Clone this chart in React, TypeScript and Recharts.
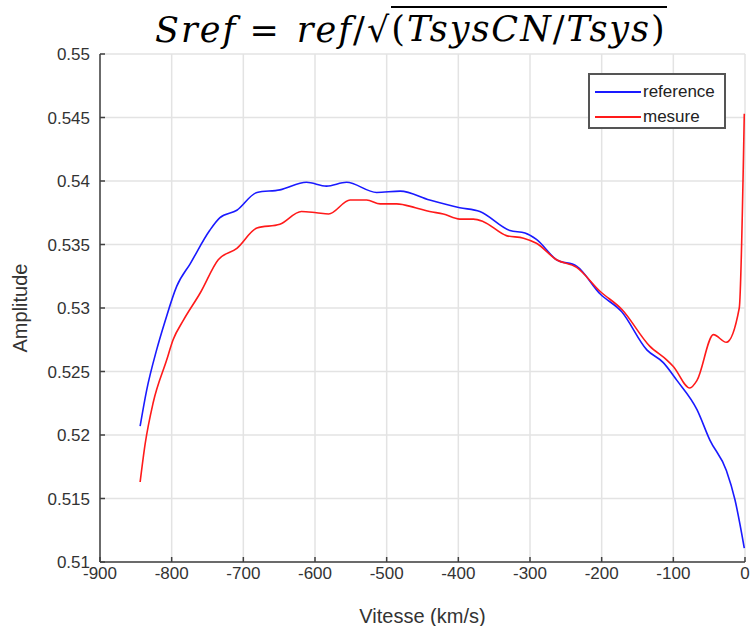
import {
  CartesianGrid,
  Legend,
  Line,
  LineChart,
  XAxis,
  YAxis,
} from "recharts";

// vitesse (km/s) and amplitude
const refVitesse = [
  -844, -835, -821, -809, -793, -774, -747, -733, -709, -681, -649, -612, -584,
  -556, -514, -481, -440, -398, -370, -328, -307, -291, -263, -235, -202, -172,
  -137, -114, -95, -67, -49, -26, -14, -1,
];
const refAmplitude = [
  0.5207, 0.5235, 0.5267, 0.529, 0.5317, 0.5335, 0.5361, 0.5371, 0.5377, 0.5391,
  0.5393, 0.5399, 0.5396, 0.5399, 0.5391, 0.5392, 0.5385, 0.5379, 0.5376, 0.5361,
  0.5359, 0.5354, 0.5338, 0.5333, 0.5311, 0.5297, 0.5267, 0.5257, 0.5243, 0.522,
  0.5196, 0.5172, 0.5149, 0.5111,
];

const mesVitesse = [
  -844, -837, -826, -807, -798, -784, -760, -735, -709, -681, -649, -619, -598,
  -581, -551, -528, -509, -486, -460, -440, -421, -398, -379, -365, -333, -309,
  -291, -263, -235, -202, -172, -133, -109, -100, -77, -67, -44, -26, -8, -1,
];
const mesAmplitude = [
  0.5163, 0.5193, 0.5225, 0.5259, 0.5275, 0.529, 0.5312, 0.5338, 0.5347, 0.5363,
  0.5366, 0.5376, 0.5375, 0.5374, 0.5385, 0.5385, 0.5382, 0.5382, 0.5379, 0.5376,
  0.5374, 0.537, 0.537, 0.5368, 0.5357, 0.5355, 0.5351, 0.5338, 0.5332, 0.5313,
  0.5299, 0.527, 0.5259, 0.5254, 0.5237, 0.5243, 0.5279, 0.5273, 0.53, 0.5453,
];

const xTicks = [-900, -800, -700, -600, -500, -400, -300, -200, -100, 0];
const yTicks = [0.51, 0.515, 0.52, 0.525, 0.53, 0.535, 0.54, 0.545, 0.55];

const seriesNames = ["reference", "mesure"];
const seriesColors = ["#1a1aff", "#ff1a1a"];

const refData = refVitesse.map((x, i) => ({ x, y: refAmplitude[i] }));
const mesData = mesVitesse.map((x, i) => ({ x, y: mesAmplitude[i] }));

const font = "'Liberation Sans', Arial, sans-serif";

function LegendBox() {
  return (
    <div
      style={{
        width: 134,
        height: 48,
        paddingTop: 4,
        border: "2px solid #555",
        background: "#fff",
        fontFamily: font,
        fontSize: 17,
        color: "#222",
        boxSizing: "content-box",
      }}
    >
      {seriesNames.map((name, i) => (
        <div
          key={name}
          style={{ display: "flex", alignItems: "center", height: 25 }}
        >
          <div
            style={{
              width: 46,
              height: 2,
              background: seriesColors[i],
              marginLeft: 5,
              marginRight: 2,
            }}
          />
          <span>{name}</span>
        </div>
      ))}
    </div>
  );
}

export default function App() {
  return (
    <div
      style={{
        position: "absolute",
        left: 0,
        top: 0,
        width: 750,
        height: 626,
        background: "#fff",
      }}
    >
      <div
        style={{
          position: "absolute",
          left: 155,
          top: 6,
          fontFamily: "'DejaVu Serif', serif",
          fontStyle: "italic",
          fontSize: 35,
          letterSpacing: 2,
          color: "#000",
          whiteSpace: "nowrap",
          display: "flex",
          alignItems: "flex-end",
          zIndex: 2,
        }}
      >
        <span>Sref</span>
        <span style={{ fontStyle: "normal", margin: "0 16px 0 12px" }}>=</span>
        <span>ref</span>
        <span style={{ fontStyle: "normal" }}>/</span>
        <span style={{ fontStyle: "normal" }}>√</span>
        <span style={{ borderTop: "2px solid #000", lineHeight: "42px" }}>
          <span style={{ fontStyle: "normal" }}>(</span>TsysCN
          <span style={{ fontStyle: "normal" }}>/</span>Tsys
          <span style={{ fontStyle: "normal" }}>)</span>
        </span>
      </div>
      <LineChart
        width={750}
        height={626}
        margin={{ top: 54, right: 5, bottom: 0, left: 0 }}
        style={{ fontFamily: font }}
      >
        <CartesianGrid stroke="#e3e3e3" strokeWidth={1.5} />
        <XAxis
          type="number"
          dataKey="x"
          domain={[-900, 0]}
          ticks={xTicks}
          height={64}
          tickSize={-5}
          tickMargin={10}
          tick={{ fill: "#333", fontSize: 17 }}
          stroke="#404040"
          strokeWidth={1.5}
          label={{
            value: "Vitesse (km/s)",
            position: "insideBottom",
            offset: 3,
            fill: "#333",
            fontSize: 20,
          }}
        />
        <YAxis
          type="number"
          domain={[0.51, 0.55]}
          ticks={yTicks}
          allowDataOverflow
          width={100}
          tickSize={-5}
          tickMargin={15}
          tick={{ fill: "#333", fontSize: 17 }}
          stroke="#404040"
          strokeWidth={1.5}
          label={{
            value: "Amplitude",
            angle: -90,
            position: "insideLeft",
            offset: 20,
            style: { textAnchor: "middle" },
            fill: "#333",
            fontSize: 20,
          }}
        />
        <Legend
          layout="horizontal"
          verticalAlign="middle"
          align="center"
          content={() => <LegendBox />}
          wrapperStyle={{ left: 588, top: 73, width: 138 }}
        />
        <Line
          data={refData}
          dataKey="y"
          name={seriesNames[0]}
          type="monotone"
          stroke={seriesColors[0]}
          strokeWidth={1.6}
          dot={false}
          isAnimationActive={false}
        />
        <Line
          data={mesData}
          dataKey="y"
          name={seriesNames[1]}
          type="monotone"
          stroke={seriesColors[1]}
          strokeWidth={1.6}
          dot={false}
          isAnimationActive={false}
        />
      </LineChart>
    </div>
  );
}
